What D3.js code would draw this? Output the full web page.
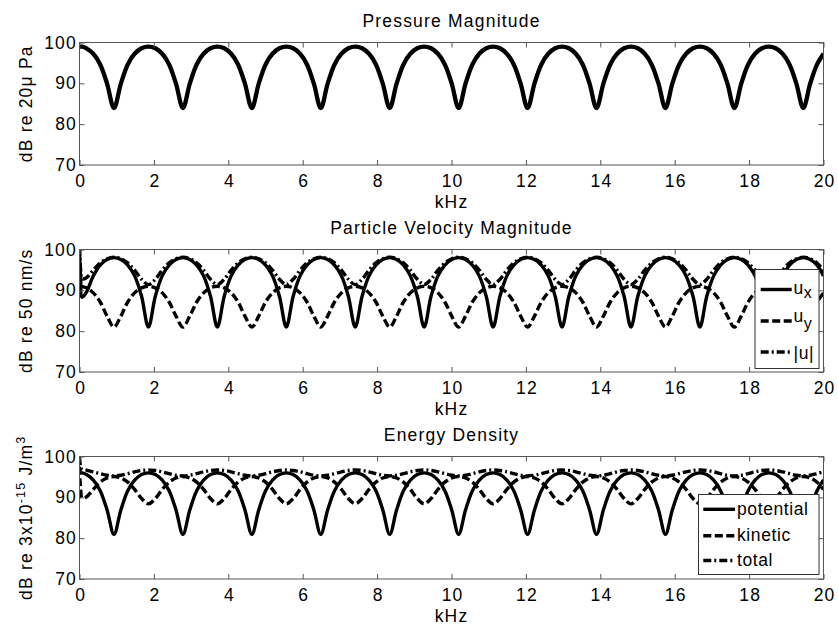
<!DOCTYPE html>
<html><head><meta charset="utf-8">
<script src="https://cdn.jsdelivr.net/npm/d3@7"></script>
<style>
body{margin:0;background:#fff}
svg text{font-family:"Liberation Sans",Arial,Helvetica,sans-serif;}
</style>
</head><body>
<svg id="c" width="838" height="625" xmlns="http://www.w3.org/2000/svg"></svg>
<script>
// ---------- data ----------
const freq = [0,0.03,0.07,0.185,0.371,0.556,0.741,0.927,1.112,1.297,1.482,1.668,
1.853,2.038,2.224,2.409,2.594,2.780,2.965,3.150,3.335,3.521,
3.706,3.891,4.077,4.262,4.447,4.633,4.818,5.003,5.188,5.374,
5.559,5.744,5.930,6.115,6.300,6.486,6.671,6.856,7.041,7.227,
7.412,7.597,7.783,7.968,8.153,8.339,8.524,8.709,8.894,9.080,
9.265,9.450,9.636,9.821,10.006,10.192,10.377,10.562,10.747,10.933,
11.118,11.303,11.489,11.674,11.859,12.045,12.230,12.415,12.600,12.786,
12.971,13.156,13.342,13.527,13.712,13.898,14.083,14.268,14.453,14.639,
14.824,15.009,15.195,15.380,15.565,15.751,15.936,16.121,16.306,16.492,
16.677,16.862,17.048,17.233,17.418,17.604,17.789,17.974,18.159,18.345,
18.530,18.715,18.901,19.086,19.271,19.457,19.642,19.827,20];

const pressure = [99,99,98.97,98.58,97.23,94.63,89.92,83.93,89.92,94.63,97.23,98.58,
99,98.58,97.23,94.63,89.92,83.93,89.92,94.63,97.23,98.58,
99,98.58,97.23,94.63,89.92,83.93,89.92,94.63,97.23,98.58,
99,98.58,97.23,94.63,89.92,83.93,89.92,94.63,97.23,98.58,
99,98.58,97.23,94.63,89.92,83.93,89.92,94.63,97.23,98.58,
99,98.58,97.23,94.63,89.92,83.93,89.92,94.63,97.23,98.58,
99,98.58,97.23,94.63,89.92,83.93,89.92,94.63,97.23,98.58,
99,98.58,97.23,94.63,89.92,83.93,89.92,94.63,97.23,98.58,
99,98.58,97.23,94.63,89.92,83.93,89.92,94.63,97.23,98.58,
99,98.58,97.23,94.63,89.92,83.93,89.92,94.63,97.23,98.58,
99,98.58,97.23,94.63,89.92,83.93,89.92,94.63,97.23];

const ux = [100,93,88.3,89.5,93.54,96.2,97.57,98,97.57,96.2,93.54,88.55,
81,88.55,93.54,96.2,97.57,98,97.57,96.2,93.54,88.55,
81,88.55,93.54,96.2,97.57,98,97.57,96.2,93.54,88.55,
81,88.55,93.54,96.2,97.57,98,97.57,96.2,93.54,88.55,
81,88.55,93.54,96.2,97.57,98,97.57,96.2,93.54,88.55,
81,88.55,93.54,96.2,97.57,98,97.57,96.2,93.54,88.55,
81,88.55,93.54,96.2,97.57,98,97.57,96.2,93.54,88.55,
81,88.55,93.54,96.2,97.57,98,97.57,96.2,93.54,88.55,
81,88.55,93.54,96.2,97.57,98,97.57,96.2,93.54,88.55,
81,88.55,93.54,96.2,97.57,98,97.57,96.2,93.54,88.55,
81,88.55,93.54,96.2,97.57,98,97.57,96.2,93.54];

const uy = [91,90.98,90.93,90.61,89.38,87.14,83.7,81.01,83.7,87.14,89.38,90.61,
91,90.61,89.38,87.14,83.7,81.01,83.7,87.14,89.38,90.61,
91,90.61,89.38,87.14,83.7,81.01,83.7,87.14,89.38,90.61,
91,90.61,89.38,87.14,83.7,81.01,83.7,87.14,89.38,90.61,
91,90.61,89.38,87.14,83.7,81.01,83.7,87.14,89.38,90.61,
91,90.61,89.38,87.14,83.7,81.01,83.7,87.14,89.38,90.61,
91,90.61,89.38,87.14,83.7,81.01,83.7,87.14,89.38,90.61,
91,90.61,89.38,87.14,83.7,81.01,83.7,87.14,89.38,90.61,
91,90.61,89.38,87.14,83.7,81.01,83.7,87.14,89.38,90.61,
91,90.61,89.38,87.14,83.7,81.01,83.7,87.14,89.38,90.61,
91,90.61,89.38,87.14,83.7,81.01,83.7,87.14,89.38];

const umag = [100.5,95.12,92.82,93.1,94.95,96.71,97.74,98.09,97.74,96.71,94.95,92.71,
91.41,92.71,94.95,96.71,97.74,98.09,97.74,96.71,94.95,92.71,
91.41,92.71,94.95,96.71,97.74,98.09,97.74,96.71,94.95,92.71,
91.41,92.71,94.95,96.71,97.74,98.09,97.74,96.71,94.95,92.71,
91.41,92.71,94.95,96.71,97.74,98.09,97.74,96.71,94.95,92.71,
91.41,92.71,94.95,96.71,97.74,98.09,97.74,96.71,94.95,92.71,
91.41,92.71,94.95,96.71,97.74,98.09,97.74,96.71,94.95,92.71,
91.41,92.71,94.95,96.71,97.74,98.09,97.74,96.71,94.95,92.71,
91.41,92.71,94.95,96.71,97.74,98.09,97.74,96.71,94.95,92.71,
91.41,92.71,94.95,96.71,97.74,98.09,97.74,96.71,94.95,92.71,
91.41,92.71,94.95,96.71,97.74,98.09,97.74,96.71,94.95];

const potential = [96,96,95.97,95.58,94.23,91.63,86.92,80.93,86.92,91.63,94.23,95.58,
96,95.58,94.23,91.63,86.92,80.93,86.92,91.63,94.23,95.58,
96,95.58,94.23,91.63,86.92,80.93,86.92,91.63,94.23,95.58,
96,95.58,94.23,91.63,86.92,80.93,86.92,91.63,94.23,95.58,
96,95.58,94.23,91.63,86.92,80.93,86.92,91.63,94.23,95.58,
96,95.58,94.23,91.63,86.92,80.93,86.92,91.63,94.23,95.58,
96,95.58,94.23,91.63,86.92,80.93,86.92,91.63,94.23,95.58,
96,95.58,94.23,91.63,86.92,80.93,86.92,91.63,94.23,95.58,
96,95.58,94.23,91.63,86.92,80.93,86.92,91.63,94.23,95.58,
96,95.58,94.23,91.63,86.92,80.93,86.92,91.63,94.23,95.58,
96,95.58,94.23,91.63,86.92,80.93,86.92,91.63,94.23];

const kinetic = [97.5,92.12,89.82,90.1,91.95,93.71,94.74,95.09,94.74,93.71,91.95,89.71,
88.41,89.71,91.95,93.71,94.74,95.09,94.74,93.71,91.95,89.71,
88.41,89.71,91.95,93.71,94.74,95.09,94.74,93.71,91.95,89.71,
88.41,89.71,91.95,93.71,94.74,95.09,94.74,93.71,91.95,89.71,
88.41,89.71,91.95,93.71,94.74,95.09,94.74,93.71,91.95,89.71,
88.41,89.71,91.95,93.71,94.74,95.09,94.74,93.71,91.95,89.71,
88.41,89.71,91.95,93.71,94.74,95.09,94.74,93.71,91.95,89.71,
88.41,89.71,91.95,93.71,94.74,95.09,94.74,93.71,91.95,89.71,
88.41,89.71,91.95,93.71,94.74,95.09,94.74,93.71,91.95,89.71,
88.41,89.71,91.95,93.71,94.74,95.09,94.74,93.71,91.95,89.71,
88.41,89.71,91.95,93.71,94.74,95.09,94.74,93.71,91.95];

const total = [99.83,97.48,96.91,96.66,96.25,95.8,95.4,95.25,95.4,95.8,96.25,96.58,
96.7,96.58,96.25,95.8,95.4,95.25,95.4,95.8,96.25,96.58,
96.7,96.58,96.25,95.8,95.4,95.25,95.4,95.8,96.25,96.58,
96.7,96.58,96.25,95.8,95.4,95.25,95.4,95.8,96.25,96.58,
96.7,96.58,96.25,95.8,95.4,95.25,95.4,95.8,96.25,96.58,
96.7,96.58,96.25,95.8,95.4,95.25,95.4,95.8,96.25,96.58,
96.7,96.58,96.25,95.8,95.4,95.25,95.4,95.8,96.25,96.58,
96.7,96.58,96.25,95.8,95.4,95.25,95.4,95.8,96.25,96.58,
96.7,96.58,96.25,95.8,95.4,95.25,95.4,95.8,96.25,96.58,
96.7,96.58,96.25,95.8,95.4,95.25,95.4,95.8,96.25,96.58,
96.7,96.58,96.25,95.8,95.4,95.25,95.4,95.8,96.25];

const xTicks = [0,2,4,6,8,10,12,14,16,18,20];
const yTicks = [70,80,90,100];
const titles = ["Pressure Magnitude","Particle Velocity Magnitude","Energy Density"];
const xLabel = "kHz";

// ---------- layout / styles ----------
const FONT = 17.5, LS = 1.2;
const L = 79.5, R = 823.5, PH = 122.5;
const tops = [42.5, 249.5, 456.5];
const AX = "#555";
const SOLID = null, DASH = "8,3.5", DASHDOT = "8,3,2,3";

const panels = [
  {series:[{v:pressure, w:4.3, dash:SOLID}], legend:null,
   ylabel:[{t:"dB re 20\u03bc Pa"}]},
  {series:[{v:ux, w:3.4, dash:SOLID},{v:uy, w:3.4, dash:DASH},{v:umag, w:3.4, dash:DASHDOT}],
   ylabel:[{t:"dB re 50 nm/s"}],
   legend:{x:755, y:269.5, w:64, h:99, sx0:760.7, sx1:791.7, tx:793.5,
     rows:[{ly:289.5, parts:[{t:"u",dy:4},{t:"x",dy:8,fs:16}]},
           {ly:321, parts:[{t:"u",dy:1},{t:"y",dy:8,fs:16}]},
           {ly:352, parts:[{t:"|u|",dy:6.5}]}]}},
  {series:[{v:potential, w:3.4, dash:SOLID},{v:kinetic, w:3.4, dash:DASH},{v:total, w:3.4, dash:DASHDOT}],
   ylabel:[{t:"dB re 3x10"},{t:"-15",sup:true},{t:" J/m"},{t:"3",sup:true}],
   legend:{x:698.5, y:494.5, w:120.5, h:80, sx0:703.3, sx1:735, tx:737,
     rows:[{ly:509.3, parts:[{t:"potential",dy:5.5}]},
           {ly:535.7, parts:[{t:"kinetic",dy:5.5}]},
           {ly:560.5, parts:[{t:"total",dy:5.5}]}]}}
];

const svg = d3.select("#c");
svg.append("rect").attr("width",838).attr("height",625).attr("fill","#fff");
const x = d3.scaleLinear().domain([0,20]).range([L,R]);
const defs = svg.append("defs");

panels.forEach((p,pi)=>{
  const top = tops[pi], bot = top+PH;
  const y = d3.scaleLinear().domain([70,100]).range([bot,top]);
  const g = svg.append("g");
  const cid = "clip"+pi;
  defs.append("clipPath").attr("id",cid).append("rect")
    .attr("x",L).attr("y",top).attr("width",R-L).attr("height",PH);

  // lines
  const line = d3.line().x((d,i)=>x(freq[i])).y(d=>y(d)).curve(d3.curveCatmullRom.alpha(0.5));
  const lg = g.append("g").attr("clip-path",`url(#${cid})`);
  p.series.forEach(s=>{
    lg.append("path").attr("d",line(s.v)).attr("fill","none")
      .attr("stroke","#000").attr("stroke-width",s.w)
      .attr("stroke-dasharray",s.dash).attr("stroke-linejoin","round");
  });

  // axes
  const styleAxis = sel => {
    sel.attr("font-size",FONT).attr("font-family",null).attr("color",AX);
    sel.select(".domain").remove();
    sel.selectAll("text").attr("fill","#000").style("letter-spacing",LS+"px");
  };
  g.append("g").attr("transform",`translate(0,${bot})`)
    .call(d3.axisBottom(x).tickValues(xTicks).tickFormat(d3.format("d")).tickSize(-5).tickPadding(9.5))
    .call(styleAxis)
    .selectAll("text").attr("dx",(LS/2)+"px");
  g.append("g").attr("transform",`translate(0,${top})`)
    .call(d3.axisTop(x).tickValues(xTicks).tickFormat("").tickSize(-5)).call(styleAxis);
  g.append("g").attr("transform",`translate(${L},0)`)
    .call(d3.axisLeft(y).tickValues(yTicks).tickFormat(d3.format("d")).tickSize(-5).tickPadding(2.5))
    .call(styleAxis);
  g.append("g").attr("transform",`translate(${R},0)`)
    .call(d3.axisRight(y).tickValues(yTicks).tickFormat("").tickSize(-5)).call(styleAxis);
  g.append("rect").attr("x",L).attr("y",top).attr("width",R-L).attr("height",PH)
    .attr("fill","none").attr("stroke",AX).attr("stroke-width",1);

  // title
  g.append("text").attr("x",(L+R)/2).attr("y",top-16).attr("text-anchor","middle")
    .attr("font-size",FONT).style("letter-spacing",LS+"px").text(titles[pi]);
  // x label
  g.append("text").attr("x",(L+R)/2).attr("y",bot+43.3).attr("text-anchor","middle")
    .attr("font-size",FONT).style("letter-spacing",LS+"px").text(xLabel);
  // y label (with superscripts)
  const yl = g.append("text").attr("transform",`translate(32.3,${(top+bot)/2}) rotate(-90)`)
    .attr("text-anchor","middle").attr("font-size",FONT).style("letter-spacing",LS+"px");
  let shift = 0;
  p.ylabel.forEach(part=>{
    const t = yl.append("tspan").text(part.t);
    const want = part.sup ? -7 : 0;
    if(want !== shift) t.attr("dy", want - shift);
    if(part.sup) t.attr("font-size",12.5);
    shift = want;
  });

  // legend
  if(p.legend){
    const Lg = p.legend;
    const lgg = g.append("g");
    lgg.append("rect").attr("x",Lg.x).attr("y",Lg.y).attr("width",Lg.w).attr("height",Lg.h)
      .attr("fill","#fff").attr("stroke","#333").attr("stroke-width",1);
    Lg.rows.forEach((r,ri)=>{
      const s = p.series[ri];
      lgg.append("line").attr("x1",Lg.sx0).attr("x2",Lg.sx1).attr("y1",r.ly).attr("y2",r.ly)
        .attr("stroke","#000").attr("stroke-width",s.w).attr("stroke-dasharray",s.dash);
      const t = lgg.append("text").attr("x",Lg.tx).attr("y",r.ly).attr("font-size",FONT)
        .style("letter-spacing","0.6px");
      let acc = 0;
      r.parts.forEach(pt=>{
        const ts = t.append("tspan").text(pt.t).attr("dy",pt.dy-acc);
        acc = pt.dy;
        if(pt.fs) ts.attr("font-size",pt.fs);
      });
    });
  }
});
</script>
</body></html>
